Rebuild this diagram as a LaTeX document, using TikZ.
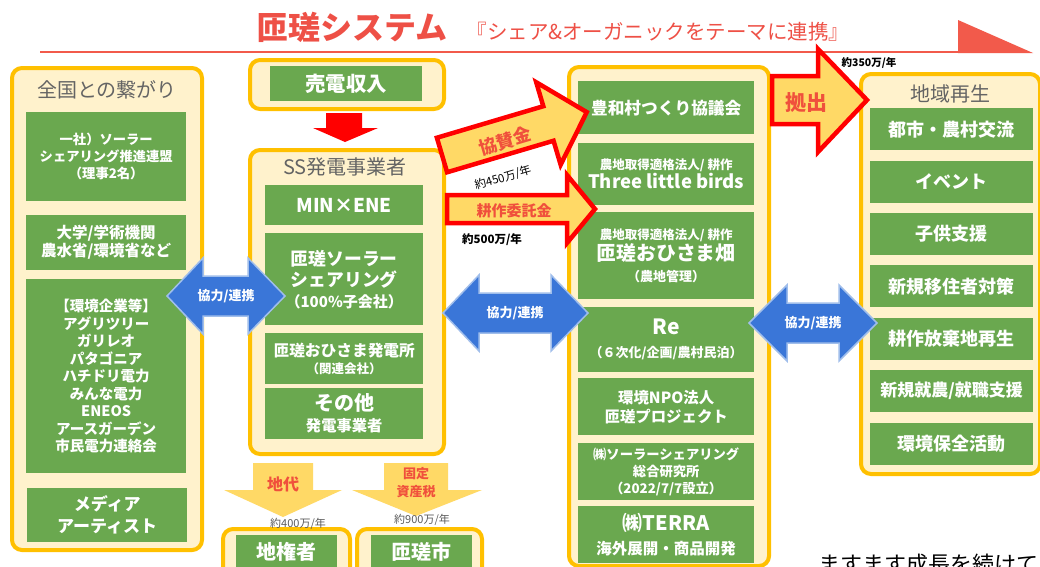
\documentclass[tikz,border=0pt]{standalone}
\usepackage{fontspec}
\setmainfont{Noto Sans CJK JP}
\usetikzlibrary{positioning}
\definecolor{titleRed}{RGB}{238,80,70}
\definecolor{lineRed}{RGB}{242,90,75}
\definecolor{contOrange}{RGB}{255,192,0}
\definecolor{contCream}{RGB}{255,242,204}
\definecolor{boxGreen}{RGB}{106,168,79}
\definecolor{titleGray}{RGB}{100,100,100}
\definecolor{arrBlue}{RGB}{58,118,216}
\definecolor{arrBlueEdge}{RGB}{160,190,235}
\definecolor{arrYellow}{RGB}{255,217,102}
\definecolor{labelRed}{RGB}{240,80,60}
\definecolor{amtGray}{RGB}{90,90,90}
\newcommand\fsz[2]{\fontsize{#1}{#2}\selectfont}

\begin{document}
\begin{tikzpicture}[
  x=1pt, y=-1pt,
  cont/.style={draw=contOrange, line width=4pt, fill=contCream, rounded corners=10pt, inner sep=0pt, anchor=north west},
  gbox/.style={fill=boxGreen, text=white, align=center, inner sep=0pt, anchor=north west, font=\bfseries},
  rbox/.style={gbox, minimum width=163pt, minimum height=42pt, font=\bfseries\fsz{18}{20}},
  ctitle/.style={text=titleGray, font=\fsz{20}{24}},
  bluearr/.style={fill=arrBlue, draw=arrBlueEdge, line width=1.5pt},
  redarr/.style={fill=arrYellow, draw=red, line width=4.5pt},
  coop/.style={text=white, font=\bfseries\fsz{13}{15}},
  flow/.style={text=labelRed, font=\bfseries, align=center},
  amt/.style={font=\bfseries\fsz{11}{13}}
]
\fill[white] (0,0) rectangle (1040,566);
\useasboundingbox (0,0) rectangle (1040,566);

% title
\node[font=\bfseries\fsz{32}{36}, text=titleRed] (title) at (352,27) {匝瑳システム};
\node[font=\fsz{20.5}{24}, text=titleRed] (subtitle) at (658,32) {『シェア\&オーガニックをテーマに連携』};
\draw[lineRed, line width=2pt] (40,52) -- (958,52);
\fill[lineRed] (958,20) -- (1033,53) -- (958,53) -- cycle;

% left column
\node[cont, minimum width=190pt, minimum height=482pt] (zenkoku) at (10,66) {};
\node[ctitle] (zenkokuT) at (107,90) {全国との繋がり};
\node[gbox, minimum width=160pt, minimum height=89pt, font=\bfseries\fsz{13.3}{17}] (zk1) at (26,112) {一社）ソーラー\\シェアリング推進連盟\\（理事2名）};
\node[gbox, minimum width=160pt, minimum height=55pt, font=\bfseries\fsz{15.5}{18}] (zk2) at (26,215) {大学/学術機関\\農水省/環境省など};
\node[gbox, minimum width=160pt, minimum height=194pt, font=\bfseries\fsz{14.5}{17.5}] (zk3) at (26,279) {【環境企業等】\\アグリツリー\\ガリレオ\\パタゴニア\\ハチドリ電力\\みんな電力\\ENEOS\\アースガーデン\\市民電力連絡会};
\node[gbox, minimum width=160pt, minimum height=54pt, font=\bfseries\fsz{17}{22}] (zk4) at (27,488) {メディア\\アーティスト};

% power producers
\node[cont, minimum width=194pt, minimum height=49pt] (baidenC) at (248,58) {};
\node[gbox, minimum width=152pt, minimum height=35pt, font=\bfseries\fsz{20.4}{24}] (baiden) at (270,66) {売電収入};
\fill[red] (326,113) -- (362,113) -- (362,128) -- (378,128) -- (345,142) -- (313,128) -- (326,128) -- cycle;
\node[cont, minimum width=194pt, minimum height=304pt] (ssC) at (248,148) {};
\node[ctitle] (ssT) at (345,167) {SS発電事業者};
\node[gbox, minimum width=158pt, minimum height=40pt, font=\bfseries\fsz{19}{22}] (ss1) at (265,185) {MIN×ENE};
\node[gbox, minimum width=158pt, minimum height=92pt, font=\bfseries\fsz{17.8}{21}] (ss2) at (265,233) {匝瑳ソーラー\\シェアリング\\\fsz{15}{21}（100\%子会社）};
\node[gbox, minimum width=158pt, minimum height=51pt, font=\bfseries\fsz{15.7}{17}] (ss3) at (265,333) {匝瑳おひさま発電所\\\fsz{12.5}{17}（関連会社）};
\node[gbox, minimum width=158pt, minimum height=51pt, font=\bfseries\fsz{20}{21}] (ss4) at (265,388) {その他\\\fsz{15.3}{21}発電事業者};

% rent and tax
\fill[arrYellow] (253,463) -- (313,463) -- (313,490) -- (342,490) -- (283,517) -- (224,490) -- (253,490) -- cycle;
\fill[arrYellow] (384,463) -- (448,463) -- (448,490) -- (482,490) -- (416,516) -- (352,490) -- (384,490) -- cycle;
\node[flow, font=\bfseries\fsz{16}{18}] (chidai) at (283,484) {地代};
\node[flow, font=\bfseries\fsz{13}{18}] (kotei) at (416,483) {固定\\資産税};
\node[cont, minimum width=127pt, minimum height=60pt] (chikenC) at (221,527) {};
\node[gbox, minimum width=101pt, minimum height=33pt, font=\bfseries\fsz{20}{22}] (chiken) at (236,535) {地権者};
\node[cont, minimum width=125pt, minimum height=60pt] (sosaC) at (355,527) {};
\node[gbox, minimum width=101pt, minimum height=33pt, font=\bfseries\fsz{20}{22}] (sosa) at (371,535) {匝瑳市};
\node[amt, text=amtGray, font=\fsz{11}{13}] (amt400) at (298,524) {約400万/年};
\node[amt, text=amtGray, font=\fsz{11}{13}] (amt900) at (422,520) {約900万/年};

% agriculture column
\node[cont, minimum width=200pt, minimum height=499pt] (nochiC) at (567,65) {};
\node[gbox, minimum width=176pt, minimum height=53pt, font=\bfseries\fsz{16.7}{20}] (m1) at (578,81) {豊和村つくり協議会};
\node[gbox, minimum width=176pt, minimum height=62pt, font=\bfseries\fsz{12.5}{19}] (m2) at (578,143) {農地取得適格法人/ 耕作\\\fsz{18.5}{19}Three little birds};
\node[gbox, minimum width=176pt, minimum height=87pt, font=\bfseries\fsz{12.5}{21}] (m3) at (578,212) {農地取得適格法人/ 耕作\\\fsz{19.8}{22}匝瑳おひさま畑\\\fsz{13}{21}（農地管理）};
\node[gbox, minimum width=176pt, minimum height=65pt, font=\bfseries\fsz{21}{23}] (m4) at (578,307) {Re\\\fsz{13}{23}（６次化/企画/農村民泊）};
\node[gbox, minimum width=176pt, minimum height=57pt, font=\bfseries\fsz{15.4}{19}] (m5) at (578,378) {環境NPO法人\\匝瑳プロジェクト};
\node[gbox, minimum width=176pt, minimum height=57pt, font=\bfseries\fsz{13.3}{17}] (m6) at (578,443) {㈱ソーラーシェアリング\\総合研究所\\（2022/7/7設立）};
\node[gbox, minimum width=176pt, minimum height=57pt, font=\bfseries\fsz{20}{24}] (m7) at (578,506) {㈱TERRA\\\fsz{15.5}{24}海外展開・商品開発};

% regional column
\node[cont, minimum width=179pt, minimum height=400pt] (chiikiC) at (859,72) {};
\node[ctitle] (chiikiT) at (950,94) {地域再生};
\node[rbox] (r1) at (870,108) {都市・農村交流};
\node[rbox, below=10pt of r1] (r2) {イベント};
\node[rbox, below=10pt of r2] (r3) {子供支援};
\node[rbox, below=10pt of r3] (r4) {新規移住者対策};
\node[rbox, below=10pt of r4] (r5) {耕作放棄地再生};
\node[rbox, below=10pt of r5, font=\bfseries\fsz{17}{20}] (r6) {新規就農/就職支援};
\node[rbox, below=10pt of r6] (r7) {環境保全活動};

% cooperation arrows
\draw[bluearr] (167,296) -- (203,258) -- (203,276) -- (248,276) -- (248,258) -- (285,296) -- (248,334) -- (248,316) -- (203,316) -- (203,334) -- cycle;
\node[coop] (coop1) at (226,296) {協力/連携};
\draw[bluearr] (443,313) -- (479,275) -- (479,293) -- (551,293) -- (551,275) -- (588,313) -- (551,351) -- (551,333) -- (479,333) -- (479,351) -- cycle;
\node[coop] (coop2) at (515,313) {協力/連携};
\draw[bluearr] (749,323) -- (787,285) -- (787,303) -- (839,303) -- (839,285) -- (877,323) -- (839,361) -- (839,343) -- (787,343) -- (787,361) -- cycle;
\node[coop] (coop3) at (813,323) {協力/連携};

% money arrows
\begin{scope}[shift={(442,155)}, rotate=16.5]
  \draw[redarr] (0,-18) -- (111,-18) -- (111,-43) -- (151,0) -- (111,43) -- (111,18) -- (0,18) -- cycle;
\end{scope}
\node[flow, font=\bfseries\fsz{18}{20}, rotate=16.5] (kyosan) at (505,141) {協賛金};
\node[amt, font=\fsz{11.5}{13}, rotate=16.5] (amt450) at (503,178) {約450万/年};
\draw[redarr] (447,195) -- (567,195) -- (567,175) -- (595,209) -- (567,243) -- (567,223) -- (447,223) -- cycle;
\node[flow, font=\bfseries\fsz{15}{17}] (kosaku) at (514,211) {耕作委託金};
\node[amt, font=\bfseries\fsz{11.5}{13}] (amt500) at (492,240) {約500万/年};
\draw[redarr] (772,76) -- (818,76) -- (818,49) -- (867,100) -- (818,152) -- (818,124) -- (772,124) -- cycle;
\node[flow, font=\bfseries\fsz{21}{23}] (kyoshutsu) at (806,103) {拠出};
\node[amt, font=\bfseries\fsz{10.5}{12}] (amt350) at (869,63) {約350万/年};

\node[font=\fsz{22}{24}] (seicho) at (928,564) {ますます成長を続けて};
\end{tikzpicture}
\end{document}
